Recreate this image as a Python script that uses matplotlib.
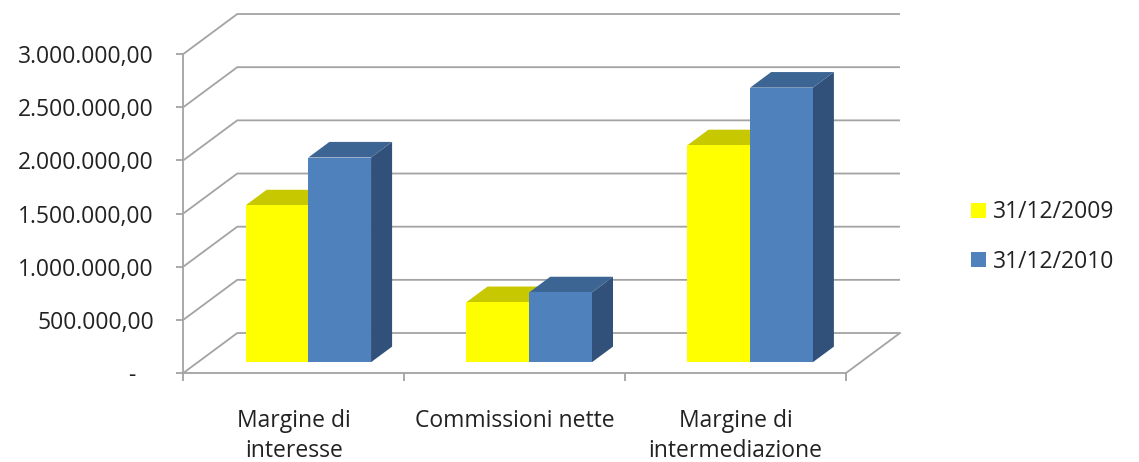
import matplotlib.pyplot as plt
from matplotlib.patches import Polygon, Patch
from matplotlib.ticker import FuncFormatter, FixedLocator

categories = ['Margine di\ninteresse', 'Commissioni nette', 'Margine di\nintermediazione']
series_names = ['31/12/2009', '31/12/2010']
values_2009 = [1475000, 565000, 2040000]
values_2010 = [1925000, 657000, 2582000]
y_ticks = [0, 500000, 1000000, 1500000, 2000000, 2500000, 3000000]

plt.rcParams['font.family'] = ['Open Sans', 'DejaVu Sans']

# face colours: front, top, side
yellow = ('#FFFF00', '#C8C800', '#A8A800')
blue = ('#4F81BD', '#3C6594', '#31517A')
grid_col = '#a3a3a3'
text_col = '#222222'

W, H = 1139, 462
fig = plt.figure(figsize=(W / 100, H / 100), dpi=100)
ax = fig.add_axes([183.3 / W, 1 - 373 / H, (846 - 183.3) / W, (373 - 54) / H])
ax.set_xlim(0, 3)
ax.set_ylim(0, 3000000)

# oblique depth of the box: shift per unit depth in data units
DX = 0.2443
DY = 376000


def pt(x, y, d):
    return (x + d * DX, y + d * DY)


# walls and floor
for v in y_ticks:
    ax.plot([0, DX, 3 + DX], [v, v + DY, v + DY], color=grid_col, lw=1.3,
            clip_on=False, zorder=1, solid_capstyle='butt')
ax.plot([3, 3 + DX], [0, DY], color=grid_col, lw=1.3, clip_on=False, zorder=1)

# 3D bars
BW = 0.284
d0, d1 = 0.27, 0.66
for i in range(len(categories)):
    for j, (vals, cols) in enumerate([(values_2009, yellow), (values_2010, blue)]):
        x0 = i + 0.5 - BW + j * BW
        x1 = x0 + BW
        v = vals[i]
        side = [pt(x1, 0, d0), pt(x1, 0, d1), pt(x1, v, d1), pt(x1, v, d0)]
        top = [pt(x0, v, d0), pt(x1, v, d0), pt(x1, v, d1), pt(x0, v, d1)]
        front = [pt(x0, 0, d0), pt(x1, 0, d0), pt(x1, v, d0), pt(x0, v, d0)]
        for poly, c in [(side, cols[2]), (top, cols[1]), (front, cols[0])]:
            ax.add_patch(Polygon(poly, closed=True, facecolor=c, edgecolor='none',
                                 clip_on=False, zorder=3 + j))


def it_fmt(v, pos):
    if v == 0:
        return '-   '
    s = f'{v:,.2f}'
    return s.replace(',', 'X').replace('.', ',').replace('X', '.')


ax.yaxis.set_major_locator(FixedLocator(y_ticks))
ax.yaxis.set_major_formatter(FuncFormatter(it_fmt))
ax.set_xticks([0, 1, 2, 3])
ax.set_xticklabels([])
ax.set_xticks([0.5, 1.5, 2.5], minor=True)
ax.set_xticklabels(categories, minor=True, fontsize=16.5, color=text_col,
                   linespacing=1.3)
ax.tick_params(axis='x', which='minor', length=0, pad=26)
ax.tick_params(axis='x', which='major', length=6, width=1.3, color=grid_col)
ax.tick_params(axis='y', length=5.2, width=1.3, color=grid_col, pad=16,
               labelsize=16.5, labelcolor=text_col)

for s in ['top', 'right']:
    ax.spines[s].set_visible(False)
for s in ['left', 'bottom']:
    ax.spines[s].set_color(grid_col)
    ax.spines[s].set_linewidth(1.3)
ax.patch.set_visible(False)

handles = [Patch(facecolor=yellow[0]), Patch(facecolor=blue[0])]
fig.legend(handles, series_names, loc='center left',
           bbox_to_anchor=(971 / W, 1 - 237 / H), frameon=False, fontsize=16.5,
           labelcolor=text_col, handlelength=0.65, handleheight=0.65,
           handletextpad=0.3, labelspacing=1.1, borderpad=0, borderaxespad=0)

fig.savefig('out.png', dpi=100)
